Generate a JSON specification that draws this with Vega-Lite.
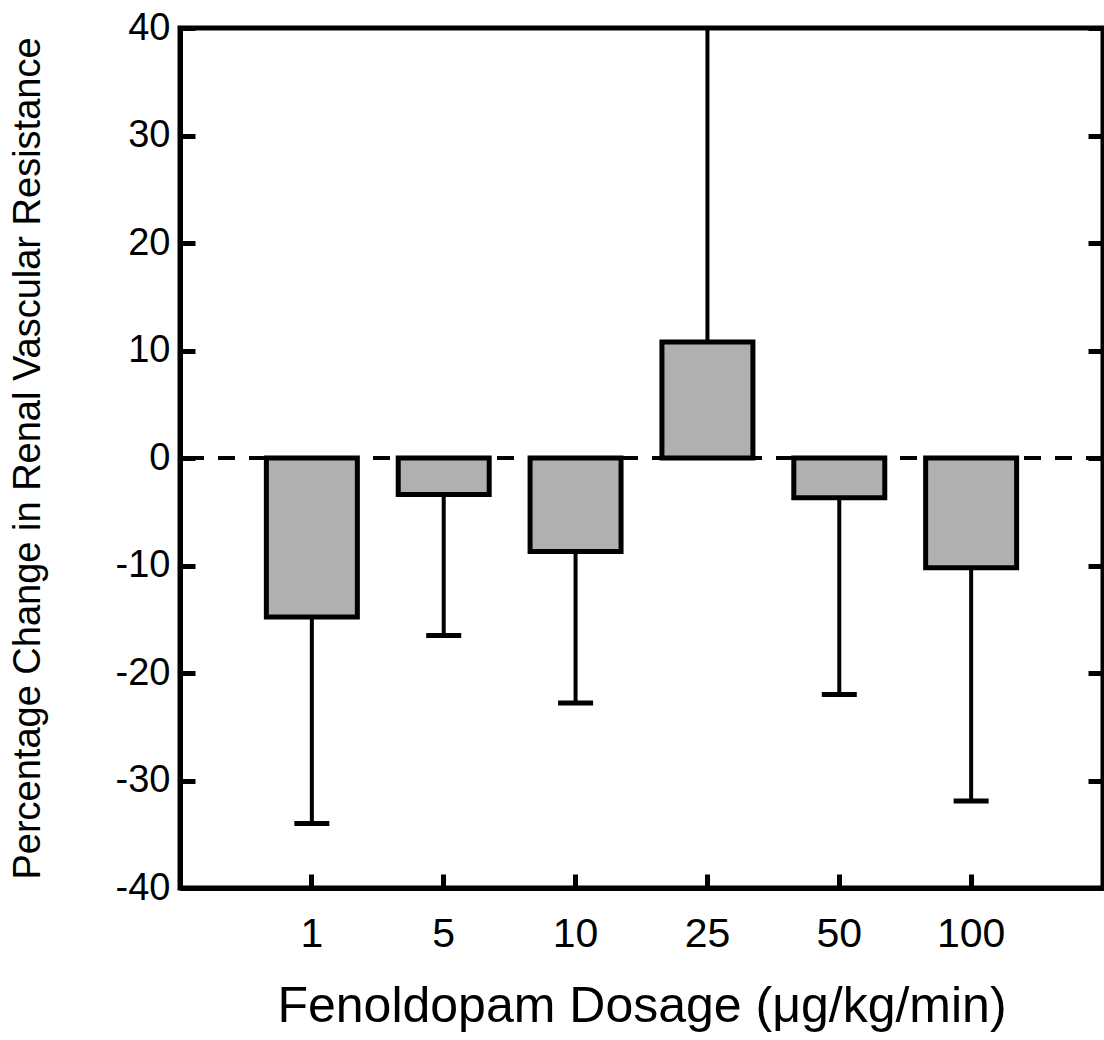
{
  "$schema": "https://vega.github.io/schema/vega-lite/v6.json",
  "autosize": "none",
  "padding": {"left": 180, "top": 28, "right": 1, "bottom": 152},
  "width": 923,
  "height": 860,
  "background": "white",
  "config": {
    "view": {"stroke": "black", "strokeWidth": 5},
    "font": "Liberation Sans",
    "axis": {"domainColor": "black", "domainWidth": 5, "tickColor": "black", "tickWidth": 5, "labelColor": "black", "titleColor": "black", "labelFont": "Liberation Sans", "titleFont": "Liberation Sans", "titleFontWeight": "normal", "grid": false}
  },
  "data": {
    "values": [
      {"dose": "1", "value": -14.8, "err": -34.0},
      {"dose": "5", "value": -3.4, "err": -16.5},
      {"dose": "10", "value": -8.7, "err": -22.8},
      {"dose": "25", "value": 10.8, "err": 40},
      {"dose": "50", "value": -3.7, "err": -22.0},
      {"dose": "100", "value": -10.2, "err": -31.9}
    ]
  },
  "resolve": {"axis": {"y": "independent"}},
  "layer": [
    {
      "mark": {"type": "rule", "color": "black", "strokeWidth": 3, "strokeDash": [17, 14]},
      "encoding": {
        "y": {"datum": 0, "type": "quantitative", "scale": {"domain": [-40, 40], "nice": false, "zero": false},
          "axis": {"orient": "left", "values": [-40, -30, -20, -10, 0, 10, 20, 30, 40], "labelExpr": "toString(datum.value)", "tickSize": -15, "labelFontSize": 38, "labelPadding": 25, "title": "Percentage Change in Renal Vascular Resistance", "titleFontSize": 38, "titlePadding": 68}}
      }
    },
    {
      "mark": {"type": "rule", "color": "black", "strokeWidth": 4, "clip": true},
      "encoding": {
        "x": {"field": "dose", "type": "nominal", "sort": null,
          "scale": {"paddingInner": 0.31, "paddingOuter": 0.655},
          "axis": {"orient": "bottom", "labelAngle": 0, "tickSize": -14, "labelFontSize": 41, "labelPadding": 40, "title": "Fenoldopam Dosage (μg/kg/min)", "titleFontSize": 50, "titlePadding": 27}},
        "y": {"field": "value", "type": "quantitative",
          "axis": {"orient": "right", "values": [-40, -30, -20, -10, 0, 10, 20, 30, 40], "tickSize": -15, "labels": false, "title": null, "domain": false}},
        "y2": {"field": "err"}
      }
    },
    {
      "transform": [{"filter": "datum.err < 40"}],
      "mark": {"type": "tick", "color": "black", "size": 35, "thickness": 5, "opacity": 1},
      "encoding": {
        "x": {"field": "dose", "type": "nominal", "sort": null},
        "y": {"field": "err", "type": "quantitative", "axis": null}
      }
    },
    {
      "mark": {"type": "bar", "fill": "#b0b0b0", "stroke": "black", "strokeWidth": 5, "strokeJoin": "miter"},
      "encoding": {
        "x": {"field": "dose", "type": "nominal", "sort": null},
        "y": {"field": "value", "type": "quantitative", "axis": null},
        "y2": {"datum": 0}
      }
    }
  ]
}
